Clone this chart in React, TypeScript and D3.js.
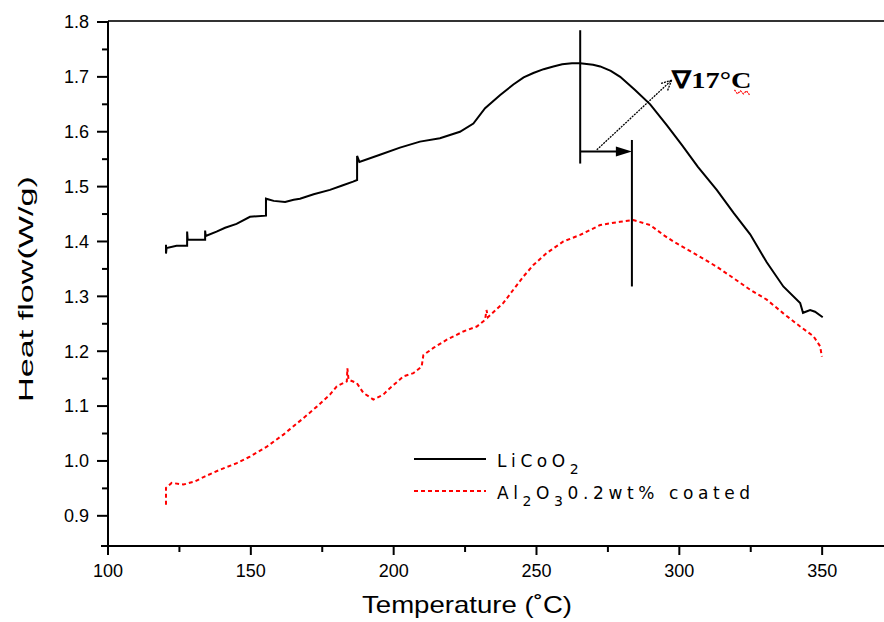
import React from "react";
import * as d3 from "d3";

// ---- data ----
const licooT = [120.3, 120.3, 120.5, 124, 127.7, 127.7, 127.9, 131, 134, 134, 134.2, 138, 141, 145, 149.7, 155.3, 155.3, 158, 162, 165, 167.2, 172, 177.7, 182, 185.8, 187.2, 187.2, 188, 195.2, 202.2, 209.2, 216.2, 223.2, 227.9, 232, 237.3, 241.9, 245.5, 248.9, 252.5, 255.9, 259, 262.4, 265.3, 269.8, 272.3, 276, 279.3, 284.5, 289.8, 295.6, 301, 306.5, 313.1, 319, 324.8, 330.6, 336.4, 342.3, 343.3, 345.8, 347.5, 350.2];
const licooV = [1.394, 1.378, 1.388, 1.392, 1.392, 1.418, 1.403, 1.403, 1.403, 1.420, 1.410, 1.418, 1.425, 1.432, 1.445, 1.447, 1.478, 1.474, 1.472, 1.476, 1.478, 1.486, 1.494, 1.502, 1.509, 1.512, 1.556, 1.545, 1.558, 1.571, 1.582, 1.588, 1.600, 1.615, 1.643, 1.667, 1.686, 1.699, 1.707, 1.714, 1.719, 1.723, 1.725, 1.725, 1.722, 1.719, 1.711, 1.700, 1.676, 1.650, 1.612, 1.575, 1.536, 1.494, 1.452, 1.413, 1.362, 1.318, 1.288, 1.270, 1.275, 1.272, 1.262];

const coatedT = [120.3, 120.3, 122.3, 126.4, 130.5, 134, 139.2, 145.1, 149.7, 155.6, 161.4, 163.7, 168.4, 173.1, 177.7, 180.1, 183.6, 183.8, 184.2, 187.1, 189.4, 192.9, 196.4, 198.1, 203.4, 206.9, 209.8, 210.4, 213.9, 218.6, 224.4, 229.1, 232, 232.5, 233, 238.4, 241.9, 245.4, 248.9, 253.6, 259.4, 265.3, 272.3, 279.3, 283.9, 289.8, 294.4, 297.9, 305, 313.1, 319, 324.8, 330.6, 336.4, 342.3, 347, 349.3, 349.9];
const coatedV = [0.920, 0.951, 0.960, 0.957, 0.963, 0.972, 0.984, 0.996, 1.008, 1.026, 1.048, 1.058, 1.078, 1.099, 1.121, 1.136, 1.145, 1.169, 1.148, 1.142, 1.124, 1.112, 1.121, 1.130, 1.154, 1.160, 1.172, 1.193, 1.206, 1.221, 1.236, 1.245, 1.257, 1.275, 1.262, 1.288, 1.312, 1.336, 1.357, 1.379, 1.400, 1.412, 1.430, 1.436, 1.439, 1.430, 1.412, 1.400, 1.379, 1.354, 1.333, 1.312, 1.294, 1.269, 1.245, 1.227, 1.209, 1.190];

const xMajorTicks = [100, 150, 200, 250, 300, 350];
const xMinorTicks = [125, 175, 225, 275, 325];
const yMajorTicks = [0.9, 1.0, 1.1, 1.2, 1.3, 1.4, 1.5, 1.6, 1.7, 1.8];
const yMinorTicks = [0.95, 1.05, 1.15, 1.25, 1.35, 1.45, 1.55, 1.65, 1.75];

// annotation (data units)
const onsetT1 = 265.3;
const onsetT2 = 283.4;
const deltaLabel = "∇17°C";

const W = 884, H = 622;
const left = 108, right = 885, top = 22, bottom = 546;

export default function App() {
  const x = d3.scaleLinear().domain([100, 372]).range([left, right]);
  const y = d3.scaleLinear().domain([0.845, 1.8]).range([bottom, top]);

  const line = d3.line<[number, number]>().x(d => x(d[0])).y(d => y(d[1]));
  const licoo = line(licooT.map((t, i) => [t, licooV[i]] as [number, number])) || "";
  const coated = line(coatedT.map((t, i) => [t, coatedV[i]] as [number, number])) || "";

  const fmt = d3.format(".1f");
  const font = "'Liberation Sans', Arial, sans-serif";
  const legendFont = "'DejaVu Sans', sans-serif";

  const hY = y(1.564);
  const ax1 = x(271.1), ay1 = y(1.567), ax2 = x(297.3), ay2 = y(1.694);
  const ang = Math.atan2(ay2 - ay1, ax2 - ax1);
  const ah = 12;
  const tx = x(297.6), ty = y(1.68);

  return (
    <svg width={W} height={H} style={{ position: "absolute", left: 0, top: 0, background: "#fff" }}>
      <rect width={W} height={H} fill="#fff" />
      {/* frame */}
      <line x1={left} x2={W} y1={21} y2={21} stroke="#333" strokeWidth={2} />
      <line x1={left} x2={left} y1={21} y2={bottom + 9} stroke="#000" strokeWidth={2} />
      <line x1={left - 7} x2={W} y1={bottom} y2={bottom} stroke="#000" strokeWidth={2} />

      {/* y ticks */}
      {yMajorTicks.map(v => (
        <g key={"ym" + v}>
          <line x1={left - 11} x2={left} y1={y(v)} y2={y(v)} stroke="#000" strokeWidth={2} />
          <text x={left - 19} y={y(v)} dy="0.35em" textAnchor="end" fontFamily={font} fontSize={18}>{fmt(v)}</text>
        </g>
      ))}
      {yMinorTicks.map(v => (
        <line key={"yn" + v} x1={left - 6} x2={left} y1={y(v)} y2={y(v)} stroke="#000" strokeWidth={2} />
      ))}
      {/* x ticks */}
      {xMajorTicks.map(t => (
        <g key={"xm" + t}>
          <line x1={x(t)} x2={x(t)} y1={bottom} y2={bottom + 9} stroke="#000" strokeWidth={2} />
          <text x={x(t)} y={577} textAnchor="middle" fontFamily={font} fontSize={18}>{t}</text>
        </g>
      ))}
      {xMinorTicks.map(t => (
        <line key={"xn" + t} x1={x(t)} x2={x(t)} y1={bottom} y2={bottom + 6} stroke="#000" strokeWidth={2} />
      ))}

      {/* axis titles */}
      <text x={467} y={613} textAnchor="middle" fontFamily={font} fontSize={24} textLength={210} lengthAdjust="spacingAndGlyphs">Temperature (˚C)</text>
      <text transform="translate(33,289) rotate(-90)" textAnchor="middle" fontFamily={font} fontSize={21} textLength={226} lengthAdjust="spacingAndGlyphs">Heat flow(W/g)</text>

      {/* curves */}
      <path d={coated} fill="none" stroke="#f00" strokeWidth={2} strokeDasharray="4,3" />
      <path d={licoo} fill="none" stroke="#000" strokeWidth={2} />

      {/* annotation */}
      <line x1={x(onsetT1)} x2={x(onsetT1)} y1={y(1.785)} y2={y(1.542)} stroke="#000" strokeWidth={2} />
      <line x1={x(onsetT2)} x2={x(onsetT2)} y1={y(1.585)} y2={y(1.318)} stroke="#000" strokeWidth={2} />
      <line x1={x(onsetT1)} x2={x(onsetT2) - 14} y1={hY} y2={hY} stroke="#000" strokeWidth={2} />
      <path d={`M${x(onsetT2) - 16},${hY - 5} L${x(onsetT2)},${hY} L${x(onsetT2) - 16},${hY + 5} Z`} fill="#000" />
      <line x1={ax1} y1={ay1} x2={ax2} y2={ay2} stroke="#000" strokeWidth={1.3} strokeDasharray="2,1" />
      <line x1={ax2} y1={ay2} x2={ax2 - ah * Math.cos(ang - 0.45)} y2={ay2 - ah * Math.sin(ang - 0.45)} stroke="#000" strokeWidth={1.3} strokeDasharray="2,1" />
      <line x1={ax2} y1={ay2} x2={ax2 - ah * Math.cos(ang + 0.45)} y2={ay2 - ah * Math.sin(ang + 0.45)} stroke="#000" strokeWidth={1.3} strokeDasharray="2,1" />
      <text x={tx} y={ty} fontFamily="'Liberation Serif', 'Times New Roman', serif" fontWeight="bold" fontSize={24} textLength={79} lengthAdjust="spacingAndGlyphs">{deltaLabel}</text>
      <path d={`M${tx + 62},${ty + 2} l3,4 l3,-3 l3,3 l3,-3 l3,4`} fill="none" stroke="#f00" strokeWidth={1.2} strokeDasharray="2,1" />

      {/* legend */}
      <line x1={414} x2={486} y1={459} y2={459} stroke="#000" strokeWidth={2} />
      <text x={497} y={467} fontFamily={legendFont} fontSize={17} letterSpacing={4.6}>
        LiCoO<tspan dy={7} fontSize={14}>2</tspan>
      </text>
      <line x1={414} x2={486} y1={491} y2={491} stroke="#f00" strokeWidth={2} strokeDasharray="4,3" />
      <text x={497} y={499} fontFamily={legendFont} fontSize={17} letterSpacing={4.6}>
        Al<tspan dy={7} fontSize={14}>2</tspan><tspan dy={-7}>O</tspan><tspan dy={7} fontSize={14}>3</tspan><tspan dy={-7}>0.2wt% coated</tspan>
      </text>
    </svg>
  );
}
